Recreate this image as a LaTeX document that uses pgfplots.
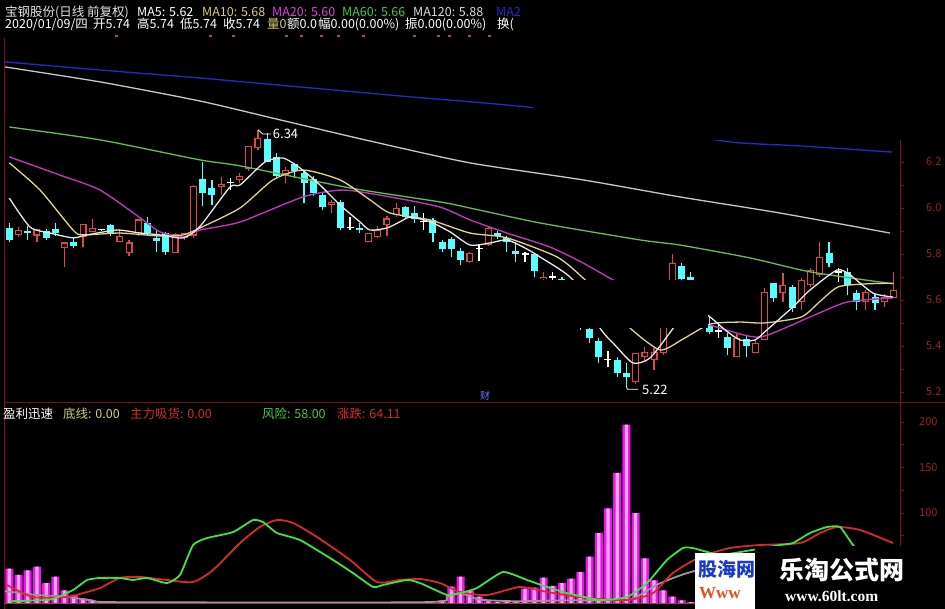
\documentclass[border=0pt]{standalone}
\usepackage{pgfplots}
\pgfplotsset{compat=1.18}
\usepackage{pgfplotstable}
\usepackage{fontspec}
\setmainfont{Noto Sans CJK SC}
\newfontfamily\serifw{Liberation Serif}
\definecolor{cyanc}{RGB}{84,255,255}
\definecolor{redc}{RGB}{225,70,70}
\definecolor{ma5}{RGB}{232,232,232}
\definecolor{ma10}{RGB}{225,210,140}
\definecolor{ma20}{RGB}{185,55,185}
\definecolor{ma60}{RGB}{100,190,80}
\definecolor{ma120}{RGB}{200,200,200}
\definecolor{ma250}{RGB}{40,40,205}
\definecolor{axred}{RGB}{120,20,20}
\definecolor{lblred}{RGB}{150,35,35}
\definecolor{lgreen}{RGB}{60,230,60}
\definecolor{lred}{RGB}{220,40,40}
\definecolor{pinkbar}{RGB}{235,20,235}
\definecolor{pinklight}{RGB}{255,165,255}
\definecolor{txtyel}{RGB}{215,205,120}
\definecolor{txtmag}{RGB}{225,60,225}
\definecolor{txtgrn}{RGB}{70,200,70}
\definecolor{txtred}{RGB}{210,45,45}
\definecolor{wmblue}{RGB}{25,60,200}
\definecolor{wmorange}{RGB}{225,80,30}

\pgfplotstableread{
i O H L C
0 5.913 5.935 5.852 5.861
2 5.90 5.92 5.86 5.89
4 5.90 5.91 5.86 5.87
5 5.91 5.935 5.88 5.89
7 5.85 5.87 5.825 5.835
11 5.925 5.93 5.88 5.89
15 5.935 5.96 5.88 5.89
16 5.87 5.905 5.81 5.855
17 5.89 5.895 5.795 5.81
21 6.125 6.20 6.01 6.065
22 6.085 6.12 6.015 6.055
28 6.30 6.326 6.20 6.20
29 6.22 6.24 6.135 6.14
31 6.19 6.195 6.13 6.16
32 6.15 6.165 6.02 6.11
33 6.125 6.14 6.05 6.065
34 6.055 6.07 5.99 6.005
36 6.025 6.035 5.905 5.915
38 5.915 5.935 5.89 5.905
43 6.005 6.01 5.95 5.96
44 5.98 6.01 5.935 5.95
46 5.948 5.956 5.85 5.89
47 5.85 5.86 5.81 5.82
48 5.865 5.875 5.785 5.82
49 5.815 5.825 5.75 5.775
53 5.89 5.90 5.865 5.88
54 5.87 5.88 5.81 5.85
55 5.815 5.85 5.765 5.80
57 5.80 5.80 5.70 5.725
60 5.69 5.70 5.62 5.64
61 5.63 5.64 5.53 5.55
62 5.54 5.55 5.47 5.49
63 5.474 5.478 5.413 5.435
64 5.42 5.435 5.325 5.35
66 5.34 5.352 5.265 5.283
67 5.283 5.326 5.22 5.265
73 5.748 5.76 5.66 5.69
74 5.70 5.72 5.60 5.62
75 5.60 5.61 5.50 5.52
76 5.49 5.53 5.45 5.46
78 5.44 5.456 5.36 5.39
80 5.43 5.448 5.35 5.40
83 5.674 5.674 5.59 5.609
85 5.657 5.665 5.548 5.565
89 5.804 5.852 5.743 5.761
91 5.722 5.74 5.622 5.665
92 5.63 5.643 5.557 5.591
94 5.613 5.626 5.557 5.587
}\downtab

\pgfplotstableread{
i O H L C
1 5.883 5.917 5.874 5.904
3 5.88 5.91 5.85 5.91
6 5.825 5.85 5.745 5.85
8 5.875 5.93 5.83 5.93
9 5.895 5.95 5.895 5.915
12 5.85 5.91 5.85 5.88
13 5.805 5.86 5.79 5.85
14 5.89 5.95 5.88 5.95
18 5.805 5.89 5.805 5.885
19 5.87 5.89 5.86 5.89
20 5.88 6.10 5.87 6.095
23 6.09 6.135 6.055 6.105
25 6.12 6.15 6.11 6.14
26 6.17 6.27 6.16 6.27
27 6.26 6.34 6.25 6.305
30 6.145 6.18 6.11 6.165
35 6.015 6.035 5.98 6.025
39 5.85 5.89 5.85 5.89
40 5.875 5.92 5.87 5.905
41 5.925 5.965 5.88 5.955
42 5.97 6.02 5.96 6.00
50 5.765 5.81 5.76 5.805
52 5.84 5.92 5.835 5.915
58 5.69 5.72 5.66 5.70
68 5.243 5.37 5.235 5.37
69 5.352 5.396 5.34 5.374
70 5.34 5.391 5.296 5.374
71 5.37 5.55 5.36 5.52
72 5.60 5.80 5.58 5.76
79 5.35 5.45 5.35 5.435
81 5.37 5.43 5.37 5.413
82 5.426 5.65 5.426 5.635
84 5.63 5.717 5.59 5.665
86 5.59 5.695 5.555 5.687
87 5.665 5.74 5.657 5.73
88 5.709 5.852 5.70 5.787
93 5.591 5.643 5.557 5.635
95 5.591 5.626 5.57 5.613
96 5.609 5.722 5.609 5.643
}\uptab

\pgfplotstableread{
i O H L C
10 5.905 5.91 5.90 5.905
24 6.11 6.13 6.08 6.11
37 5.915 5.96 5.905 5.915
45 5.94 5.98 5.905 5.94
51 5.825 5.84 5.77 5.825
56 5.80 5.81 5.765 5.80
59 5.70 5.72 5.68 5.70
65 5.34 5.38 5.31 5.34
77 5.465 5.49 5.435 5.465
90 5.722 5.74 5.678 5.722
}\dojitab

\pgfplotstableread{
i v
0 39
1 32
2 37
3 41
4 23
5 30
6 15
7 10
8 6
9 4
10 2
11 2
12 1
13 1
14 1
15 1
16 1
17 1
18 1
19 1
20 1
21 1
22 1
23 1
24 1
25 1
26 1
27 1
28 1
29 1
30 1
31 1
32 1
33 1
34 1
35 1
36 1
37 1
38 1
39 1
40 1
41 1
42 1
43 1
44 1
45 1
46 1
47 4
48 19
49 30
50 15
51 8
52 3
53 2
54 2
55 3
56 17
57 18
58 29
59 20
60 23
61 28
62 35
63 52
64 78
65 105
66 144
67 197
68 100
69 50
70 26
71 15
72 8
73 4
74 2
75 1
}\bartab

\begin{document}
\begin{tikzpicture}
\fill[black] (0pt,0pt) rectangle (945pt,609pt);

% ---------------- price panel ----------------
\begin{axis}[at={(5pt,206pt)}, anchor=south west, width=895pt, height=368pt,
  scale only axis, xmin=-0.47, xmax=96.71, ymin=5.1522, ymax=6.752,
  axis x line=none, axis y line*=right,
  y axis line style={draw=axred, line width=1pt},
  ytick={5.2,5.4,5.6,5.8,6.0,6.2}, minor y tick num=1, yticklabels={},
  tick align=outside, major tick length=4pt, minor tick length=4pt,
  ytick style={draw=axred, line width=0.8pt},
  clip=true]
% down candles: wick and filled body
\addplot[forget plot, mark=none, -, draw=cyanc, line width=1.2pt,
  quiver={u=0, v=\thisrow{H}-\thisrow{L}}]
  table[x=i, y=L] {\downtab};
\addplot[forget plot, mark=none, -, draw=cyanc, line width=7pt,
  quiver={u=0, v=\thisrow{O}-\thisrow{C}}]
  table[x=i, y=C] {\downtab};
% up candles: wick and hollow body
\addplot[forget plot, mark=none, -, draw=redc, line width=1.2pt,
  quiver={u=0, v=\thisrow{H}-\thisrow{L}}]
  table[x=i, y=L] {\uptab};
\addplot[forget plot, mark=none, -, draw=redc, line width=7pt,
  quiver={u=0, v=\thisrow{C}-\thisrow{O}}]
  table[x=i, y=O] {\uptab};
\addplot[forget plot, mark=none, -, draw=black, line width=4.6pt,
  shorten <=1.2pt, shorten >=1.2pt,
  quiver={u=0, v=\thisrow{C}-\thisrow{O}}]
  table[x=i, y=O] {\uptab};
% doji: wick and cross
\addplot[forget plot, mark=none, -, draw=white, line width=1.2pt,
  quiver={u=0, v=\thisrow{H}-\thisrow{L}}]
  table[x=i, y=L] {\dojitab};
\addplot[forget plot, only marks, mark=-, mark size=3.5pt, mark options={draw=white, line width=1.2pt}]
  table[x=i, y=O] {\dojitab};

% moving averages
\addplot[ma250, line width=1.3pt, smooth, tension=0.4] coordinates {
(-0.47,6.635)(9.85,6.6)(20.7,6.565)(31.56,6.526)(42.42,6.487)(57.08,6.435)(68.48,6.355)(78.25,6.287)(85.85,6.27)(95.84,6.243)};
\addplot[ma120, line width=1.3pt, smooth, tension=0.4] coordinates {
(-0.47,6.613)(9.85,6.548)(20.7,6.465)(29.39,6.383)(39.17,6.291)(50.02,6.196)(62.29,6.122)(72.82,6.048)(83.68,5.978)(95.62,5.891)};
\addplot[ma60, line width=1.3pt, smooth, tension=0.4] coordinates {
(0,6.352)(9.85,6.296)(20.7,6.209)(25.05,6.183)(37,6.087)(46.8,6.026)(50,6.0)(57.6,5.935)(68.5,5.861)(72.8,5.839)(80.4,5.783)(87,5.722)(96,5.67)};
\addplot[ma20, line width=1.4pt, smooth, tension=0.4] coordinates {
(0,6.222)(5.5,6.143)(9.85,6.078)(14.52,5.948)(16.36,5.896)(18.86,5.874)(20.7,5.904)(25.05,5.939)(31.89,6.048)(36.23,6.078)(41.34,6.048)(46.77,6.004)(50.02,5.948)(54.04,5.891)(58.71,5.83)(62.29,5.761)(65.55,5.687)(69.57,5.6)(73.9,5.522)(77.17,5.478)(81.51,5.439)(86.93,5.526)(90.96,5.591)(95.95,5.609)};
\addplot[ma10, line width=1.3pt, smooth, tension=0.4] coordinates {
(0,6.196)(3.33,6.078)(6.92,5.904)(8.0,5.883)(12.02,5.891)(16.36,5.878)(18.86,5.883)(20.7,5.913)(25.05,6.0)(28.63,6.122)(31.89,6.165)(35.91,6.122)(39.17,6.035)(41.34,5.978)(45.68,5.948)(50.02,5.891)(54.04,5.87)(59.47,5.787)(62.29,5.696)(65.2,5.58)(67.39,5.478)(70.65,5.383)(73.14,5.43)(76.08,5.495)(79.34,5.504)(82,5.50)(86,5.526)(88,5.593)(90,5.657)(93,5.67)(96,5.673)};
\addplot[ma5, line width=1.3pt, smooth, tension=0.4] coordinates {
(0,6.043)(2.25,5.917)(4.42,5.891)(6.92,5.87)(8.44,5.883)(11.7,5.904)(14.19,5.891)(16.36,5.883)(18.86,5.87)(20.7,5.92)(23.96,6.091)(25.05,6.1)(27.76,6.2)(29.72,6.217)(31.56,6.174)(33.73,6.1)(35.91,6.013)(38.08,5.939)(39.17,5.904)(41.01,5.913)(42.42,5.94)(43.51,5.96)(45.68,5.94)(47.86,5.896)(50.02,5.839)(52.19,5.848)(54.04,5.861)(55.99,5.826)(57.62,5.787)(61.2,5.687)(64.13,5.478)(65.76,5.404)(67.72,5.326)(69.57,5.348)(71.95,5.47)(73.9,5.578)(76.08,5.526)(77.71,5.47)(79.34,5.426)(80.96,5.426)(82.27,5.47)(85.09,5.57)(86.93,5.643)(89.87,5.73)(91.28,5.709)(93.78,5.63)(95.95,5.613)};

% price annotations
\draw[white, line width=0.8pt] (axis cs:27,6.34) -- (axis cs:27.5,6.322) -- (axis cs:28.4,6.322);
\node[anchor=base west, inner sep=0pt, text=white, font=\fontsize{13}{14}\selectfont] at (axis cs:28.6,6.30) {6.34};
\draw[white, line width=0.8pt] (axis cs:67,5.225) -- (axis cs:67.1,5.212) -- (axis cs:68.3,5.212);
\node[anchor=base west, inner sep=0pt, text=white, font=\fontsize{13}{14}\selectfont] at (axis cs:68.7,5.19) {5.22};
\end{axis}

% ---------------- indicator panel ----------------
\begin{axis}[at={(5pt,5pt)}, anchor=south west, width=895pt, height=201pt,
  scale only axis, xmin=-0.47, xmax=96.71, ymin=0, ymax=220.9,
  axis x line=none, axis y line*=right,
  y axis line style={draw=axred, line width=1pt},
  ytick={50,100,150,200}, minor y tick num=1, yticklabels={},
  tick align=outside, major tick length=4pt, minor tick length=4pt,
  ytick style={draw=axred, line width=0.8pt},
  clip=true]
\addplot[ybar, bar width=8pt, bar shift=0pt, fill=pinkbar, draw=none, forget plot] table[x=i, y=v] {\bartab};
\addplot[ybar, bar width=3.2pt, bar shift=0pt, fill=pinklight, draw=none, forget plot] table[x=i, y=v] {\bartab};
\addplot[gray!80, line width=1.8pt, smooth, tension=0.4] coordinates {
(-0.47,14)(3,10)(6,8)(9,4)(12,2)(45,2)(47.5,8)(49,12)(51,5)(55,3)(60,4)(65,4)(67.5,5)(70.5,22)(73,32)(75,38)};
\addplot[lred, line width=1.8pt, smooth, tension=0.4] coordinates {
(-0.25,20.9)(2.57,7.7)(6.26,7.7)(8.0,12)(9.85,17.6)(12.02,28.6)(14.19,29.7)(17.12,26.4)(19.95,24.2)(22.12,37.4)(25.05,67)(27.2,84.6)(29.07,92.3)(30.8,89)(33.41,73.6)(36.99,48.4)(39.92,24.2)(42.42,26.4)(44.6,27.5)(46.77,23)(48.94,13.2)(51.87,9.9)(55.45,18.7)(58.38,13.2)(62.72,6.6)(67.07,4.4)(69.89,12)(72.05,34)(74.99,51.6)(78.25,61.5)(81.51,64.8)(85.85,67)(88.02,78)(89.87,84.6)(92.37,81.3)(95.95,67)};
\addplot[lgreen, line width=1.8pt, smooth, tension=0.3] coordinates {
(0,3)(4.5,5)(6.92,15.4)(8.44,26.4)(9.85,28.6)(12.02,28.6)(13.43,26.4)(14.95,28.6)(17.12,23)(18.53,31.9)(19.95,64.8)(21.47,72.5)(24.29,79)(26.46,92.3)(27.55,90)(29.07,78)(31.56,70.3)(35.15,48.4)(37.32,34)(39.49,18.7)(40.58,20.9)(43.19,26.4)(44.6,23)(47.53,9.9)(48.94,12)(50.78,17.6)(53.6,35.2)(56.21,26.4)(58.38,18.7)(60.55,12)(64.13,4.4)(67.07,7.7)(69.24,23)(71.41,48.4)(73.14,61.5)(74.2,61.5)(77.17,54)(80.42,59)(83.68,64.8)(85.09,67)(86.93,78)(88.78,84.6)(90.2,84.6)(91.61,64.8)(93.5,43)(95.95,32)};
\end{axis}

\begin{scope}[x=1pt,y=1pt]
% frame lines
\draw[axred, line width=1pt] (4,0) -- (4,571);
\draw[axred, line width=1pt] (4,206) -- (945,206);
\draw[axred!80, line width=0.8pt] (4,5.5) -- (900,5.5);

% right tick labels
\begin{scope}[every node/.style={anchor=west, inner sep=0pt, text=lblred, font=\fontsize{11}{12}\selectfont}]
\node at (926,447) {6.2};
\node at (926,401) {6.0};
\node at (926,355) {5.8};
\node at (926,309) {5.6};
\node at (926,263) {5.4};
\node at (926,217) {5.2};
\node at (919,187) {200};
\node at (919,141.5) {150};
\node at (919,96) {100};
\end{scope}

% header
\begin{scope}[every node/.style={anchor=base west, inner sep=0pt, font=\fontsize{12.5}{14}\selectfont}]
\node[text=white!90!black] at (5,592) {宝钢股份(日线 前复权)};
\node[text=white] at (137,592) {MA5: 5.62};
\node[text=txtyel] at (202,592) {MA10: 5.68};
\node[text=txtmag] at (272,592) {MA20: 5.60};
\node[text=txtgrn] at (342,592) {MA60: 5.66};
\node[text=white!85!black] at (413,592) {MA120: 5.88};
\node[text=ma250] at (496,592) {MA2};
\node[text=white] at (5,580) {2020/01/09/四};
\node[text=white] at (93,580) {开5.74};
\node[text=white] at (137,580) {高5.74};
\node[text=white] at (180,580) {低5.74};
\node[text=white] at (223,580) {收5.74};
\node[text=txtyel] at (267,580) {量0};
\node[text=white] at (287,580) {额0.0};
\node[text=white] at (318,580) {幅0.00(0.00\%)};
\node[text=white] at (405,580) {振0.00(0.00\%)};
\node[text=white] at (497,580) {换(};
% indicator header
\node[text=white] at (3,190) {盈利迅速};
\node[text=txtyel] at (63,190) {底线: 0.00};
\node[text=txtred] at (130,190) {主力吸货: 0.00};
\node[text=txtgrn] at (262,190) {风险: 58.00};
\node[text=txtred] at (337,190) {涨跌: 64.11};
\end{scope}
\node[text=blue!55!white, font=\fontsize{10}{11}\selectfont, inner sep=0pt] at (485,213) {财};

% small magenta marks under header
\foreach \xx in {115,209,232,285,300,320,337,362,413,437,448,468,488}
  \draw[magenta!70!black, line width=1.2pt] (\xx,573) -- ++(3,0);

% occluding boxes of the screenshot
\fill[black] (533,469) rectangle (945,609);
\fill[black] (235,281) rectangle (708,329);

% watermark
\fill[white] (695,0) rectangle (757,56);
\node[anchor=west, inner sep=0pt, text=wmblue, font=\fontsize{19}{20}\selectfont\bfseries] at (698,40) {股海网};
\node[anchor=west, inner sep=0pt, text=wmorange, font=\serifw\fontsize{17}{18}\selectfont\bfseries] at (699,16) {Www};
\fill[black] (755,0) rectangle (945,63);
\node[anchor=west, inner sep=0pt, text=white, font=\fontsize{25}{26}\selectfont\bfseries] at (779,39) {乐淘公式网};
\node[anchor=west, inner sep=0pt, text=white, font=\serifw\fontsize{15.5}{16}\selectfont\bfseries] at (785,13) {www.60lt.com};
\end{scope}
\pgfresetboundingbox
\path[use as bounding box] (0pt,0pt) rectangle (945pt,609pt);
\end{tikzpicture}
\end{document}
